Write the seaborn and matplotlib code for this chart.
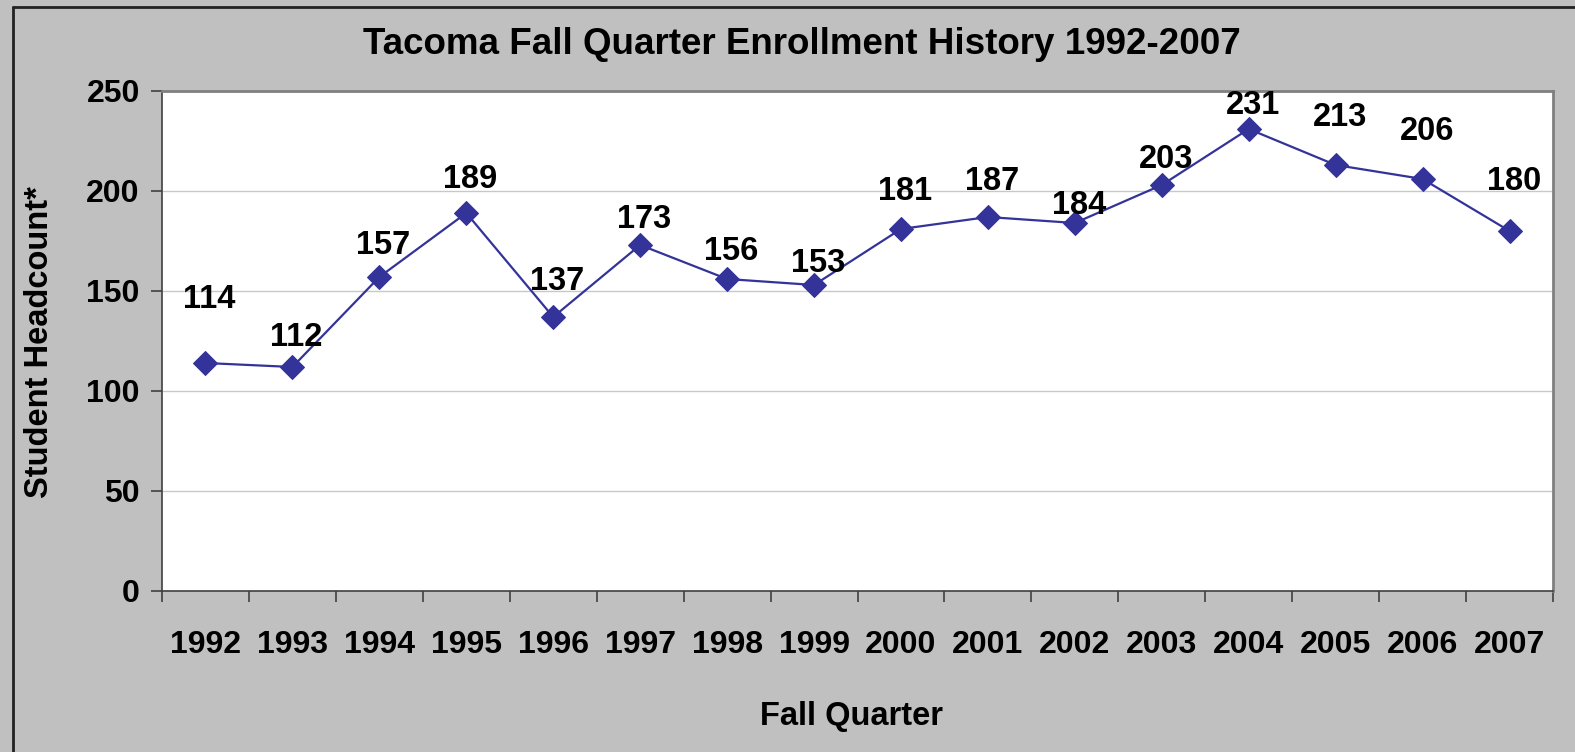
import matplotlib
matplotlib.use('Agg')
import matplotlib.pyplot as plt
import seaborn as sns
import pandas as pd
from matplotlib.lines import Line2D

years = ['1992', '1993', '1994', '1995', '1996', '1997', '1998', '1999',
         '2000', '2001', '2002', '2003', '2004', '2005', '2006', '2007']
headcount = [114, 112, 157, 189, 137, 173, 156, 153, 181, 187, 184, 203, 231, 213, 206, 180]

# label offsets above each point (pixels), as placed in the original
label_dy = [64, 30, 31, 33, 35, 26, 27, 22, 37, 35, 18, 26, 23, 48, 48, 49]

df = pd.DataFrame({'pos': range(len(years)), 'count': headcount})

sns.set_style('white')
plt.rcParams['font.family'] = ['Liberation Sans', 'DejaVu Sans']
plt.rcParams['font.weight'] = 'bold'
plt.rcParams['text.color'] = 'black'
plt.rcParams['xtick.color'] = 'black'
plt.rcParams['ytick.color'] = 'black'

fig = plt.figure(figsize=(15.75, 7.52), dpi=100)
fig.patch.set_facecolor('#c0c0c0')
ax = fig.add_axes([162/1575, 1 - 591/752, (1553 - 162)/1575, (591 - 91)/752])
ax.set_facecolor('white')

sns.lineplot(data=df, x='pos', y='count', ax=ax, color='#333399', linewidth=1.6,
             marker='D', markersize=12, markeredgecolor='#333399')

for i, v in enumerate(headcount):
    ax.annotate(str(v), (i, v), xytext=(3, label_dy[i] * 0.72), textcoords='offset points',
                ha='center', va='center', fontsize=23.5, fontweight='bold', color='black')

ax.set_xlim(-0.5, len(years) - 0.5)
ax.set_ylim(0, 250)
ax.set_yticks([0, 50, 100, 150, 200, 250])
ax.set_xticks(range(len(years)))
ax.set_xticklabels(years)
ax.set_xticks([i - 0.5 for i in range(len(years) + 1)], minor=True)
ax.tick_params(axis='x', which='both', bottom=True)
ax.tick_params(axis='y', which='major', left=True)
ax.tick_params(axis='x', which='major', length=0, pad=28, labelsize=23)
ax.tick_params(axis='x', which='minor', length=8, width=1.2, direction='out', color='#404040')
ax.tick_params(axis='y', length=8, width=1.2, direction='out', color='#404040', pad=8, labelsize=23)
for lab in ax.get_xticklabels() + ax.get_yticklabels():
    lab.set_fontweight('bold')

ax.grid(axis='y', color='#c8c8c8', linewidth=1)
ax.set_axisbelow(True)
for s in ['left', 'bottom']:
    ax.spines[s].set_color('#404040')
    ax.spines[s].set_linewidth(1.2)
for s in ['top', 'right']:
    ax.spines[s].set_color('#808080')
    ax.spines[s].set_linewidth(2)

ax.set_xlabel('')
ax.set_ylabel('')
fig.text(802/1575, 1 - 45/752, 'Tacoma Fall Quarter Enrollment History 1992-2007',
         ha='center', va='center', fontsize=26.5, fontweight='bold')
fig.text(851/1575, 1 - 716/752, 'Fall Quarter', ha='center', va='center',
         fontsize=23.5, fontweight='bold')
fig.text(40/1575, 1 - 342/752, 'Student Headcount*', ha='center', va='center',
         rotation=90, fontsize=23.5, fontweight='bold')

# outer border (top and left visible in the original crop)
fig.add_artist(Line2D([13/1575, 13/1575], [0, 1 - 7/752], transform=fig.transFigure,
                      color='#222222', linewidth=2))
fig.add_artist(Line2D([13/1575, 1], [1 - 7/752, 1 - 7/752], transform=fig.transFigure,
                      color='#222222', linewidth=2))

fig.savefig('out.png', dpi=100, facecolor=fig.get_facecolor())
